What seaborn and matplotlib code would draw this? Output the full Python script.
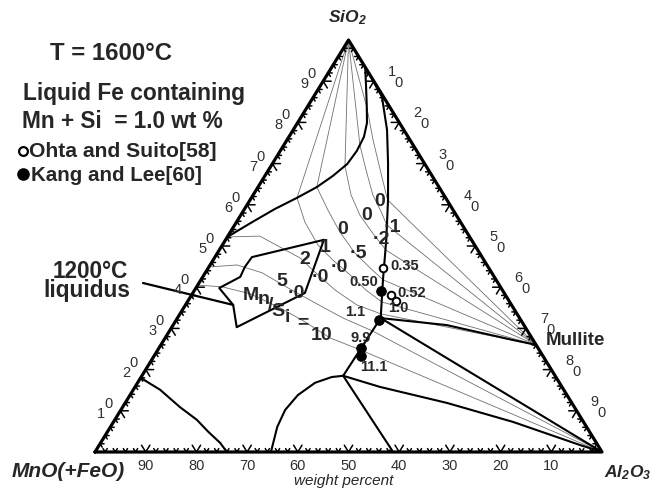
import numpy as np
import pandas as pd
import matplotlib
matplotlib.use("Agg")
import matplotlib.pyplot as plt
import seaborn as sns

# MnO(+FeO) - SiO2 - Al2O3 at 1600 C, liquid Fe with Mn + Si = 1.0 wt%
# every composition is (SiO2 wt%, Al2O3 wt%); MnO(+FeO) is the balance

# phase boundaries
silica_sio2 = [93.2, 89.1, 84.2, 79.9, 76.5, 73.1, 69.9, 67.0, 64.3, 61.7, 59.0, 55.8, 52.2]
silica_al2o3 = [6.7, 8.9, 11.5, 13.7, 14.8, 15.1, 14.8, 13.4, 11.6, 9.0, 6.0, 3.1, 0.0]
mullite_sio2 = [92.0, 86.2, 78.2, 70.2, 61.2, 51.5, 41.8, 32.5]
mullite_al2o3 = [8.0, 13.5, 18.5, 22.7, 27.2, 31.7, 35.9, 40.1]
corundum_sio2 = [32.5, 18.5]
corundum_al2o3 = [40.1, 39.7]
galaxite_sio2 = [0.0, 6.1, 10.2, 13.8, 16.8, 18.2, 18.5]
galaxite_al2o3 = [34.7, 32.9, 32.4, 33.1, 35.0, 37.6, 39.7]
spinel_edge_sio2 = [18.5, 0.0]
spinel_edge_al2o3 = [39.7, 58.8]
corundum_tie_sio2 = [18.5, 15.8, 11.9, 7.3, 1.7, 0.0]
corundum_tie_al2o3 = [39.7, 48.3, 63.5, 78.8, 94.8, 100.0]
invariant_tie_sio2 = [32.5, 0.0]
invariant_tie_al2o3 = [40.1, 100.0]
mullite_tie_sio2 = [32.5, 30.8, 27.2, 26.0]
mullite_tie_al2o3 = [40.1, 54.0, 68.8, 74.0]
tephroite_sio2 = [18.0, 15.1, 10.9, 7.8, 4.9, 2.2, 0.0]
tephroite_al2o3 = [0.0, 5.3, 11.3, 16.2, 19.9, 23.6, 26.0]

# 1200 C liquidus
liq1200_sio2 = [51.5, 47.3, 44.9, 42.5, 39.8, 35.7, 30.3, 38.6, 51.5]
liq1200_al2o3 = [19.4, 7.3, 7.1, 7.4, 4.6, 9.4, 12.8, 22.1, 19.4]

# iso Mn/Si curves
iso_curves = [
    ([100, 83.5, 75.7, 68.5, 61.2, 26.0], [0, 11.9, 17.0, 22.0, 27.1, 74.0]),
    ([100, 74.5, 68.5, 62.4, 58.3, 55.1, 26.0], [0, 15.0, 19.2, 23.6, 27.3, 30.0, 74.0]),
    ([100, 69.4, 62.4, 57.5, 53.4, 49.0, 26.0], [0, 14.6, 19.3, 23.5, 27.9, 32.9, 74.0]),
    ([100, 64.3, 58.7, 53.4, 48.3, 44.7, 41.8, 26.0], [0, 11.6, 16.6, 21.6, 27.1, 31.9, 35.9, 74.0]),
    ([100, 61.7, 55.8, 50.2, 46.6, 43.0, 39.3, 36.4, 26.0], [0, 9.0, 13.5, 18.9, 23.6, 28.8, 33.8, 38.4, 74.0]),
    ([52.2, 52.4, 49.5, 47.1, 43.7, 39.3, 35.7, 33.5, 26.0], [0, 6.3, 12.1, 16.9, 21.5, 27.7, 33.8, 39.7, 74.0]),
    ([44.9, 45.4, 43.5, 39.8, 36.2, 32.5, 29.4, 0.0], [0, 5.3, 11.2, 18.2, 25.3, 32.7, 40.0, 100.0]),
    ([40.5, 40.1, 38.4, 35.0, 31.6, 27.7, 24.8, 0.0], [0, 5.0, 11.4, 19.0, 25.6, 32.5, 39.9, 100.0]),
]

# measured slags: Mn/Si of the equilibrated metal
ohta_ratio = ["0.35", "0.52", "1.0"]
ohta_sio2 = [44.7, 38.1, 36.6]
ohta_al2o3 = [34.5, 39.3, 41.0]
kang_ratio = ["0.50", "1.1", "9.9", "11.1"]
kang_sio2 = [39.1, 32.0, 25.2, 23.3]
kang_al2o3 = [36.9, 40.0, 39.8, 40.8]

edge_ticks = [10, 20, 30, 40, 50, 60, 70, 80, 90]

# ---------------------------------------------------------------
sns.set_theme(style="white")
plt.rcParams["font.family"] = ["Liberation Sans", "DejaVu Sans"]
plt.rcParams["mathtext.fontset"] = "custom"
plt.rcParams["mathtext.rm"] = "Liberation Sans:bold:italic"
plt.rcParams["mathtext.it"] = "Liberation Sans:bold:italic"
plt.rcParams["mathtext.bf"] = "Liberation Sans:bold:italic"

W, H = 653, 490
X0, XS, Y0, YS = 95.0, 507.0, 452.0, 412.0   # triangle base origin and size, px

fig = plt.figure(figsize=(W / 100, H / 100), dpi=100)
ax = fig.add_axes([0, 0, 1, 1])
ax.set_xlim(-X0 / XS, (W - X0) / XS)
ax.set_ylim((Y0 - H) / YS, Y0 / YS)
ax.axis("off")


def tern(sio2, al2o3):
    s = np.asarray(sio2, float) / 100.0
    a = np.asarray(al2o3, float) / 100.0
    return a + s / 2.0, s


def px(xp, yp):
    return (xp - X0) / XS, (Y0 - yp) / YS


def curve(sio2, al2o3, lw, color="black", z=3):
    x, y = tern(sio2, al2o3)
    df = pd.DataFrame({"x": x, "y": y})
    sns.lineplot(data=df, x="x", y="y", sort=False, estimator=None, ax=ax,
                 color=color, lw=lw, zorder=z, legend=False)


# thin iso Mn/Si lines
for s, a in iso_curves:
    curve(s, a, 0.6, color="#707070", z=2)

# phase boundaries
heavy = [
    (silica_sio2, silica_al2o3), (mullite_sio2, mullite_al2o3),
    (corundum_sio2, corundum_al2o3), (galaxite_sio2, galaxite_al2o3),
    (spinel_edge_sio2, spinel_edge_al2o3), (corundum_tie_sio2, corundum_tie_al2o3),
    (invariant_tie_sio2, invariant_tie_al2o3), (mullite_tie_sio2, mullite_tie_al2o3),
    (tephroite_sio2, tephroite_al2o3), (liq1200_sio2, liq1200_al2o3),
]
for s, a in heavy:
    curve(s, a, 1.5)

# triangle frame
curve([0, 0, 100, 0], [0, 100, 0, 0], 2.3, z=4)

# edge ticks every 2 %, larger every 10 %
segs_x, segs_y = [], []
for v in range(2, 100, 2):
    L = 8.0 if v % 10 == 0 else 4.0
    td, th = L / 483.7, L / 507.0
    f = v / 100.0
    pts = [
        ((f, 0.0), [(0.5 * td, td), (-0.5 * td, td)]),
        ((f / 2, f), [(th, 0.0), (0.5 * td, -td)]),
        ((f + (1 - f) / 2, 1 - f), [(-th, 0.0), (-0.5 * td, -td)]),
    ]
    for (x0, y0), arms in pts:
        for dx, dy in arms:
            segs_x += [x0, x0 + dx, np.nan]
            segs_y += [y0, y0 + dy, np.nan]
ax.plot(segs_x, segs_y, color="black", lw=1.1, zorder=4)

# edge numbers
num_kw = dict(fontsize=10.5, color="#303030", ha="center", va="center", zorder=5)
for v in edge_ticks:
    lab = str(v)
    # left edge: SiO2
    xl, yl = tern(v, 0)
    ax.annotate(lab[0], (xl, yl), xytext=(-19, -3), textcoords="offset pixels", **num_kw)
    ax.annotate(lab[1], (xl, yl), xytext=(-12, 7), textcoords="offset pixels", **num_kw)
    # right edge: Al2O3
    xr, yr = tern(100 - v, v)
    ax.annotate(lab[0], (xr, yr), xytext=(18, 9), textcoords="offset pixels", **num_kw)
    ax.annotate(lab[1], (xr, yr), xytext=(25, -2), textcoords="offset pixels", **num_kw)
    # base: MnO
    xb, yb = tern(0, v)
    ax.annotate(str(100 - v), (xb, yb), xytext=(0, -14), textcoords="offset pixels", **num_kw)

# iso-line labels, one upright glyph group at a time
iso_text = [
    ("0", 380, 202), ("\u00b71", 392, 228),
    ("0", 367, 215), ("\u00b72", 381, 240),
    ("0", 343, 230), ("\u00b75", 358, 253),
    ("1", 325, 247), ("\u00b70", 339, 267),
    ("2", 305, 260), ("\u00b70", 320, 278),
    ("5", 282, 282), ("\u00b70", 296, 294),
    ("M", 251, 295), ("n", 264, 300), ("/", 271, 306), ("S", 278, 311),
    ("i", 287, 318), ("=", 303, 323), ("10", 322, 335),
]
for t, xp, yp in iso_text:
    ax.text(*px(xp, yp), t, fontsize=14, fontweight="bold", ha="center", va="center", zorder=6)

# measured points
ox, oy = tern(ohta_sio2, ohta_al2o3)
kx, ky = tern(kang_sio2, kang_al2o3)
sns.scatterplot(x=ox, y=oy, ax=ax, marker="o", s=30, facecolor="white",
                edgecolor="black", linewidth=1.4, zorder=7, legend=False)
sns.scatterplot(x=kx, y=ky, ax=ax, marker="o", s=50, color="black",
                edgecolor="black", linewidth=0.5, zorder=7, legend=False)

pt_kw = dict(fontsize=10.5, fontweight="bold", textcoords="offset pixels", zorder=8)
ohta_off = [((7, 2), "left"), ((7, 2), "left"), ((3, -7), "center")]
kang_off = [((-3, 9), "right"), ((-14, 8), "right"), ((0, 10), "center"), ((13, -11), "center")]
for lab, x, y, (off, ha) in zip(ohta_ratio, ox, oy, ohta_off):
    ax.annotate(lab, (x, y), xytext=off, ha=ha, va="center", **pt_kw)
for lab, x, y, (off, ha) in zip(kang_ratio, kx, ky, kang_off):
    ax.annotate(lab, (x, y), xytext=off, ha=ha, va="center", **pt_kw)

# corner names and axis caption
ax.text(*px(347, 22), "SiO$_2$", fontsize=12.5, fontweight="bold", style="italic",
        ha="center", va="baseline")
ax.text(*px(12, 477), "MnO(+FeO)", fontsize=15, fontweight="bold", style="italic",
        ha="left", va="baseline")
ax.text(*px(604, 477), "Al$_2$O$_3$", fontsize=12.5, fontweight="bold", style="italic",
        ha="left", va="baseline")
ax.text(*px(344, 485), "weight percent", fontsize=11, style="italic",
        ha="center", va="baseline")
ax.text(*px(575, 345), "Mullite", fontsize=13.5, fontweight="bold",
        ha="center", va="baseline", zorder=6)

# headline block
bold = dict(fontweight="bold", ha="left", va="baseline")
ax.text(*px(50, 60), "T = 1600\u00b0C", fontsize=17.3, **bold)
ax.text(*px(23, 100), "Liquid Fe containing", fontsize=16.4, **bold)
ax.text(*px(22, 128), "Mn + Si  = 1.0 wt %", fontsize=16.3, **bold)
ax.text(*px(29, 157), "Ohta and Suito[58]", fontsize=15.2, **bold)
ax.text(*px(31, 181), "Kang and Lee[60]", fontsize=14.8, **bold)
lx, ly = px(23, 151)
ax.scatter([lx], [ly], s=40, facecolor="white", edgecolor="black", linewidth=1.6, zorder=7)
lx, ly = px(23, 174)
ax.scatter([lx], [ly], s=65, color="black", zorder=7)

# 1200 C liquidus callout
ax.text(*px(90, 278), "1200\u00b0C", fontsize=16.3, fontweight="bold", ha="center", va="baseline")
ax.text(*px(87, 297), "liquidus", fontsize=16.3, fontweight="bold", ha="center", va="baseline")
ax.annotate("", xy=tern(liq1200_sio2[5], liq1200_al2o3[5]), xytext=px(143, 283),
            arrowprops=dict(arrowstyle="-", lw=1.6, color="black", shrinkA=0, shrinkB=0))

fig.savefig("out.png", dpi=100)
